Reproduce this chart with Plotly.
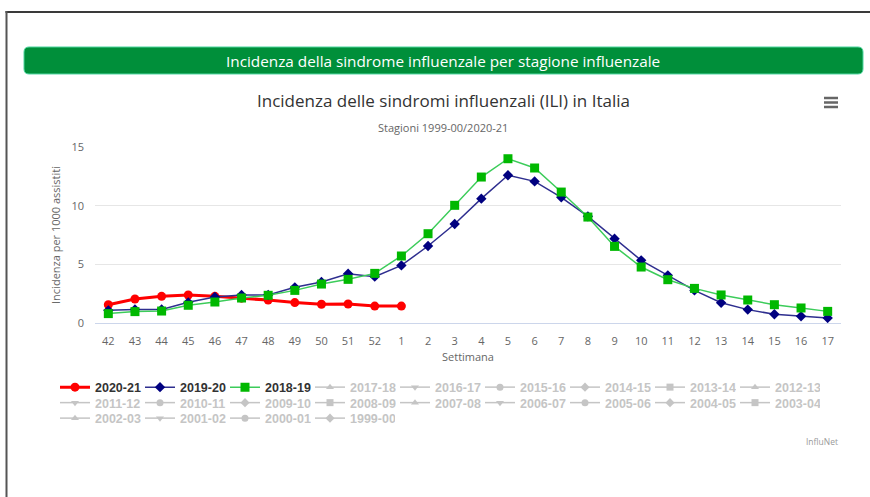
import plotly.graph_objects as go

# ---------------- data ----------------
weeks = ["42", "43", "44", "45", "46", "47", "48", "49", "50", "51", "52",
         "1", "2", "3", "4", "5", "6", "7", "8", "9", "10", "11", "12", "13",
         "14", "15", "16", "17"]

inc_2020_21 = [1.56, 2.05, 2.27, 2.39, 2.27, 2.12, 1.95, 1.74, 1.60, 1.62, 1.44, 1.44]

inc_2019_20 = [1.08, 1.16, 1.16, 1.76, 2.22, 2.39, 2.39, 3.04, 3.49, 4.20, 3.95,
               4.91, 6.56, 8.44, 10.60, 12.59, 12.07, 10.71, 9.09, 7.19, 5.34,
               4.06, 2.78, 1.73, 1.14, 0.74, 0.57, 0.43]

inc_2018_19 = [0.80, 0.97, 1.02, 1.51, 1.79, 2.13, 2.36, 2.78, 3.32, 3.72, 4.23,
               5.71, 7.61, 10.03, 12.44, 14.00, 13.21, 11.16, 9.03, 6.53, 4.77,
               3.69, 2.95, 2.39, 1.96, 1.56, 1.28, 0.99]

# seasons shown only as (greyed, hidden) legend entries – their values are not displayed
hidden_seasons = ["2017-18", "2016-17", "2015-16", "2014-15", "2013-14", "2012-13",
                  "2011-12", "2010-11", "2009-10", "2008-09", "2007-08", "2006-07",
                  "2005-06", "2004-05", "2003-04", "2002-03", "2001-02", "2000-01",
                  "1999-00"]

y_ticks = [0, 5, 10, 15]

banner_text = "Incidenza della sindrome influenzale per stagione influenzale"
chart_title = "Incidenza delle sindromi influenzali (ILI) in Italia"
chart_subtitle = "Stagioni 1999-00/2020-21"
x_title = "Settimana"
y_title = "Incidenza per 1000 assistiti"
credit = "InfluNet"

# ---------------- layout helpers ----------------
W, H = 870, 497
PL, PR, PT, PB = 95, 841, 147, 323
FONT = "Open Sans, Liberation Sans, Arial, sans-serif"
LFONT = "Liberation Sans, Arial, sans-serif"


def px_x(px):
    return (px - PL) / (PR - PL)


def px_y(py):
    return (PB - py) / (PB - PT)


fig = go.Figure()

fig.add_trace(go.Scatter(
    x=weeks[:len(inc_2020_21)], y=inc_2020_21, name="2020-21",
    mode="lines+markers", line=dict(color="#ff0000", width=3),
    marker=dict(symbol="circle", size=9, color="#ff0000"), legend="legend"))

fig.add_trace(go.Scatter(
    x=weeks, y=inc_2019_20, name="2019-20",
    mode="lines+markers", line=dict(color="#2e2e8f", width=1.5),
    marker=dict(symbol="diamond", size=8, color="#000080"), legend="legend"))

fig.add_trace(go.Scatter(
    x=weeks, y=inc_2018_19, name="2018-19",
    mode="lines+markers", line=dict(color="#3ccc5a", width=1.5),
    marker=dict(symbol="square", size=9, color="#00b800"), legend="legend"))

symbols = ["triangle-up", "triangle-down", "circle", "diamond", "square"]
GREY = "#8c8c8c"
for i, s in enumerate(hidden_seasons):
    n_idx = i + 3
    if n_idx < 9:
        lg = "legend"
        nm = "<span style='color:%s'>%s</span>" % (GREY, s)
    elif n_idx < 18:
        lg = "legend2"
        nm = s
    else:
        lg = "legend3"
        nm = s
    fig.add_trace(go.Scatter(
        x=weeks, y=[None] * len(weeks), name=nm, visible="legendonly",
        mode="lines+markers", line=dict(color=GREY, width=1.5),
        marker=dict(symbol=symbols[i % 5], size=7, color=GREY), legend=lg))

# ---------------- shapes ----------------
shapes = []


def rounded_rect(x0, y0, x1, y1, r):
    def P(x, y):
        return "%f,%f" % (px_x(x), px_y(y))
    return ("M " + P(x0 + r, y0) + " L " + P(x1 - r, y0) +
            " Q " + P(x1, y0) + " " + P(x1, y0 + r) +
            " L " + P(x1, y1 - r) +
            " Q " + P(x1, y1) + " " + P(x1 - r, y1) +
            " L " + P(x0 + r, y1) +
            " Q " + P(x0, y1) + " " + P(x0, y1 - r) +
            " L " + P(x0, y0 + r) +
            " Q " + P(x0, y0) + " " + P(x0 + r, y0) + " Z")


shapes.append(dict(type="path", xref="paper", yref="paper",
                   path=rounded_rect(24, 47, 863, 74, 5),
                   fillcolor="#008f3a", line=dict(color="#4fd6a0", width=1), layer="below"))

# outer frame lines (top and left)
shapes.append(dict(type="line", xref="paper", yref="paper",
                   x0=px_x(5.5), x1=px_x(872), y0=px_y(12), y1=px_y(12),
                   line=dict(color="#3a3a3a", width=2)))
shapes.append(dict(type="line", xref="paper", yref="paper",
                   x0=px_x(6.5), x1=px_x(6.5), y0=px_y(11), y1=px_y(500),
                   line=dict(color="#555555", width=2)))

# hamburger menu icon
for yy in (98, 102.5, 107):
    shapes.append(dict(type="line", xref="paper", yref="paper",
                       x0=px_x(824), x1=px_x(838), y0=px_y(yy), y1=px_y(yy),
                       line=dict(color="#666666", width=2.5)))

# ---------------- annotations ----------------
annotations = [
    dict(text=banner_text, xref="paper", yref="paper", x=px_x(443), y=px_y(60.5),
         showarrow=False, font=dict(family=FONT, size=15.3, color="#ffffff"),
         xanchor="center", yanchor="middle"),
    dict(text=chart_title, xref="paper", yref="paper", x=px_x(443), y=px_y(100),
         showarrow=False, font=dict(family=FONT, size=17, color="#333333"),
         xanchor="center", yanchor="middle"),
    dict(text=chart_subtitle, xref="paper", yref="paper", x=px_x(443), y=px_y(127),
         showarrow=False, font=dict(family=FONT, size=11, color="#666666"),
         xanchor="center", yanchor="middle"),
    dict(text=credit, xref="paper", yref="paper", x=px_x(840), y=px_y(441),
         showarrow=False, font=dict(family=FONT, size=8.5, color="#999999"),
         xanchor="right", yanchor="middle"),
]

legend_common = dict(orientation="h", xanchor="left", yanchor="top",
                     x=px_x(55), entrywidth=40, entrywidthmode="pixels",
                     itemwidth=30, bgcolor="rgba(0,0,0,0)", tracegroupgap=0)

fig.update_layout(
    width=W, height=H,
    margin=dict(l=PL, r=W - PR, t=PT, b=H - PB, autoexpand=False),
    paper_bgcolor="#ffffff", plot_bgcolor="#ffffff",
    font=dict(family=FONT, color="#666666"),
    showlegend=True,
    shapes=shapes,
    annotations=annotations,
    legend=dict(**legend_common, y=px_y(372.5),
                font=dict(family=LFONT, size=12.5, color="#333333", weight="bold")),
    legend2=dict(**legend_common, y=px_y(388),
                 font=dict(family=LFONT, size=12.5, color=GREY, weight="bold")),
    legend3=dict(**legend_common, y=px_y(403.5),
                 font=dict(family=LFONT, size=12.5, color=GREY, weight="bold")),
    xaxis=dict(type="category", categoryorder="array", categoryarray=weeks,
               range=[-0.5, len(weeks) - 0.5],
               showgrid=False, showline=True, linecolor="#ccd6eb", linewidth=1,
               ticks="", ticklabelstandoff=8,
               tickfont=dict(family=FONT, size=11, color="#666666"),
               title=dict(text=x_title, standoff=6,
                          font=dict(family=FONT, size=11, color="#666666")),
               fixedrange=True),
    yaxis=dict(range=[0, 15], tickvals=y_ticks, showgrid=True, gridcolor="#e6e6e6",
               gridwidth=1, zeroline=False, showline=False, ticks="",
               ticklabelstandoff=10,
               tickfont=dict(family=FONT, size=11, color="#666666"),
               title=dict(text=y_title, standoff=8,
                          font=dict(family=FONT, size=11, color="#666666")),
               fixedrange=True),
)

fig.write_html("out.html", config={"displayModeBar": False},
               post_script="document.body.style.margin='0';")
